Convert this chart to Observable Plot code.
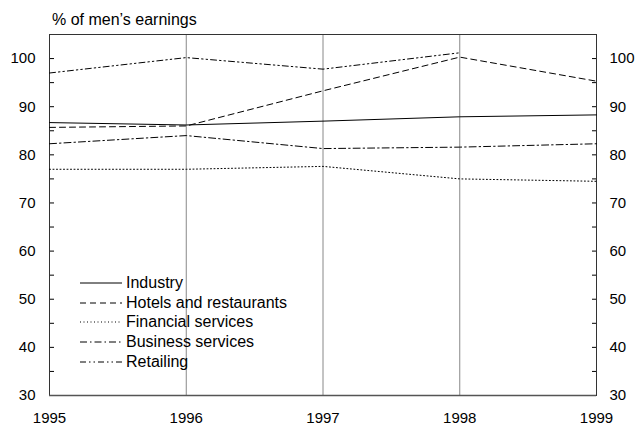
<!DOCTYPE html>
<html><head><meta charset="utf-8">
<script src="https://cdn.jsdelivr.net/npm/d3@7"></script>
<script src="https://cdn.jsdelivr.net/npm/@observablehq/plot@0.6"></script>
<style>
body{margin:0;background:#fff;font-family:"Liberation Sans",Arial,sans-serif;}
#wrap{position:relative;width:638px;height:427px;}
#wrap svg text{font-size:15px;fill:#000;}
#title{position:absolute;left:52px;top:11px;font-size:16px;color:#000;}
#legend{position:absolute;left:80px;top:273px;font-size:16px;color:#000;}
.row{display:flex;align-items:center;height:19.8px;}
.row svg{margin-right:4px;}
</style></head>
<body><div id="wrap"><div id="title">% of men’s earnings</div><div id="legend"></div></div>
<script>
const years = [1995, 1996, 1997, 1998, 1999];
const seriesNames = ["Industry", "Hotels and restaurants", "Financial services", "Business services", "Retailing"];
const industry = [86.7, 86.2, 87.0, 87.9, 88.3];
const hotels = [85.7, 86.0, 93.3, 100.3, 95.3];
const financial = [77.0, 77.0, 77.6, 75.0, 74.5];
const business = [82.3, 84.0, 81.3, 81.6, 82.3];
const retailing = [97.0, 100.2, 97.8, 101.2];
const yTicksMajor = [30, 40, 50, 60, 70, 80, 90, 100];
const yTicksMinor = [30, 35, 40, 45, 50, 55, 60, 65, 70, 75, 80, 85, 90, 95, 100, 105];
const gridYears = [1996, 1997, 1998];

const dashes = ["none", "6,4", "1,2.5", "7,3,1.5,3", "6,3,1.5,3,1.5,3"];
const seriesValues = [industry, hotels, financial, business, retailing];
const rows = [];
seriesValues.forEach((vals, i) => vals.forEach((v, j) => rows.push({series: seriesNames[i], year: years[j], value: v, i})));

const marks = [
  Plot.ruleX(gridYears, {stroke: "#888", strokeWidth: 1}),
  Plot.axisY({anchor: "left", ticks: yTicksMinor, tickSize: 5, dx: 5, tickFormat: () => "", label: null, stroke: "#000"}),
  Plot.axisY({anchor: "right", ticks: yTicksMinor, tickSize: -5, tickFormat: () => "", label: null, stroke: "#000"}),
  Plot.axisY({anchor: "left", ticks: yTicksMajor, tickSize: 0, tickPadding: 14, label: null}),
  Plot.axisY({anchor: "right", ticks: yTicksMajor, tickSize: 0, tickPadding: 13, label: null}),
  Plot.axisX({ticks: years, tickSize: 0, tickPadding: 17, tickFormat: "d", label: null}),
  Plot.frame({stroke: "#333", strokeWidth: 1}),
  Plot.ruleY([30], {stroke: "#555", strokeWidth: 1.5})
];
seriesNames.forEach((name, i) => {
  marks.push(Plot.line(rows.filter(r => r.i === i), {x: "year", y: "value", stroke: "#000", strokeWidth: 1, strokeDasharray: dashes[i] === "none" ? null : dashes[i]}));
});

const chart = Plot.plot({
  width: 638, height: 427,
  marginLeft: 49, marginRight: 42, marginTop: 34, marginBottom: 32,
  style: {fontFamily: "Liberation Sans, Arial, sans-serif", color: "#000", background: "#fff"},
  x: {domain: [1995, 1999]},
  y: {domain: [30, 105]},
  marks
});
document.getElementById("wrap").prepend(chart);

const leg = document.getElementById("legend");
seriesNames.forEach((name, i) => {
  const row = document.createElement("div");
  row.className = "row";
  row.innerHTML = `<svg width="42" height="10"><line x1="0" x2="42" y1="5" y2="5" stroke="#000" stroke-width="1" ${dashes[i] === "none" ? "" : `stroke-dasharray="${dashes[i]}"`}/></svg><span>${name}</span>`;
  leg.appendChild(row);
});
</script></body></html>
